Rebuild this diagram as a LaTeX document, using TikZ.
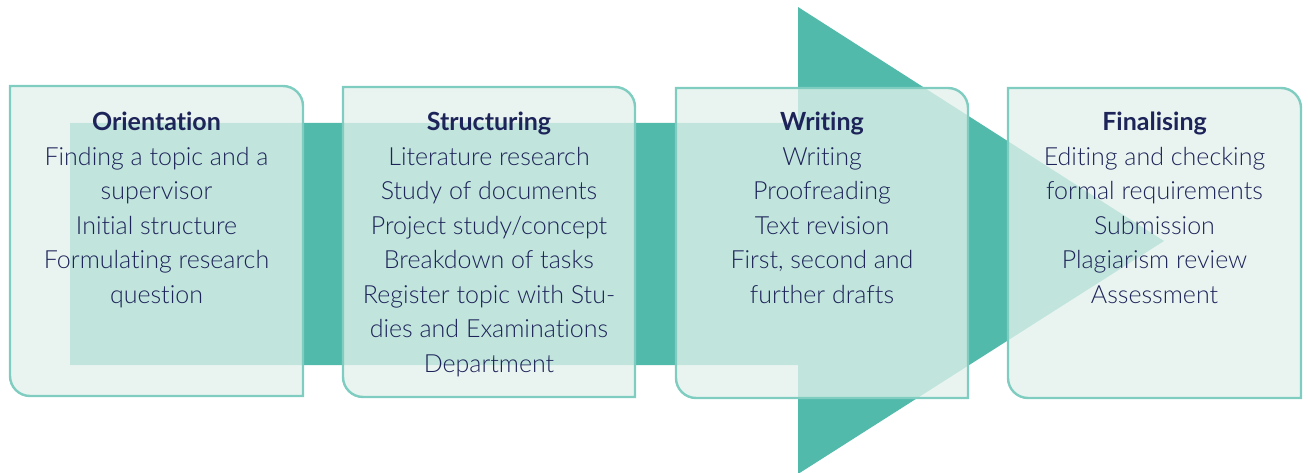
\documentclass[tikz,border=0pt]{standalone}
\usepackage{fontspec}
\setmainfont{Lato Light}[BoldFont={Lato Bold},Ligatures=NoCommon]
\definecolor{teal}{HTML}{52BAAB}
\definecolor{boxfill}{HTML}{E3F1EC}
\definecolor{boxline}{HTML}{7FCDC0}
\definecolor{navy}{HTML}{1D2459}
\tikzset{
  stagebox/.style={draw=boxline, line width=2.4pt, fill=boxfill, fill opacity=0.77},
  stagetext/.style={align=center, text=navy, font=\fontsize{25}{34.5}\selectfont, inner sep=0pt, anchor=north},
}
\newcommand{\stageframe}[4]{% x1, top, x2, bottom
  \path[stagebox] (#1,#2) -- ({#3-20},#2) .. controls ({#3-9},#2) and (#3,{#2+9}) .. (#3,{#2+20})
    -- (#3,#4) -- ({#1+20},#4) .. controls ({#1+9},#4) and (#1,{#4-9}) .. (#1,{#4-20}) -- cycle;}
\begin{document}
\begin{tikzpicture}[x=1pt,y=-1pt]
\useasboundingbox (0,0) rectangle (1308,473);
% arrow
\path[fill=teal] (70,123) -- (798,123) -- (798,7) -- (1164,241) -- (798,474) -- (798,365) -- (70,365) -- cycle;
% boxes
\stageframe{10}{86}{303}{396}
\stageframe{343}{87}{635}{397}
\stageframe{676}{88}{968}{398}
\stageframe{1008}{88}{1301}{398}
% texts
\node[stagetext] (orient) at (156.5,112) {\textbf{Orientation}\\Finding a topic and a\\supervisor\\Initial structure\\Formulating research\\question};
\node[stagetext] (struct) at (489,112) {\textbf{Structuring}\\Literature research\\Study of documents\\Project study/concept\\Breakdown of tasks\\Register topic with Stu-\\dies and Examinations\\Department};
\node[stagetext] (writ) at (822,112) {\textbf{Writing}\\Writing\\Proofreading\\Text revision\\First, second and\\further drafts};
\node[stagetext] (final) at (1154.5,112) {\textbf{Finalising}\\Editing and checking\\formal requirements\\Submission\\Plagiarism review\\Assessment};
\end{tikzpicture}
\end{document}
